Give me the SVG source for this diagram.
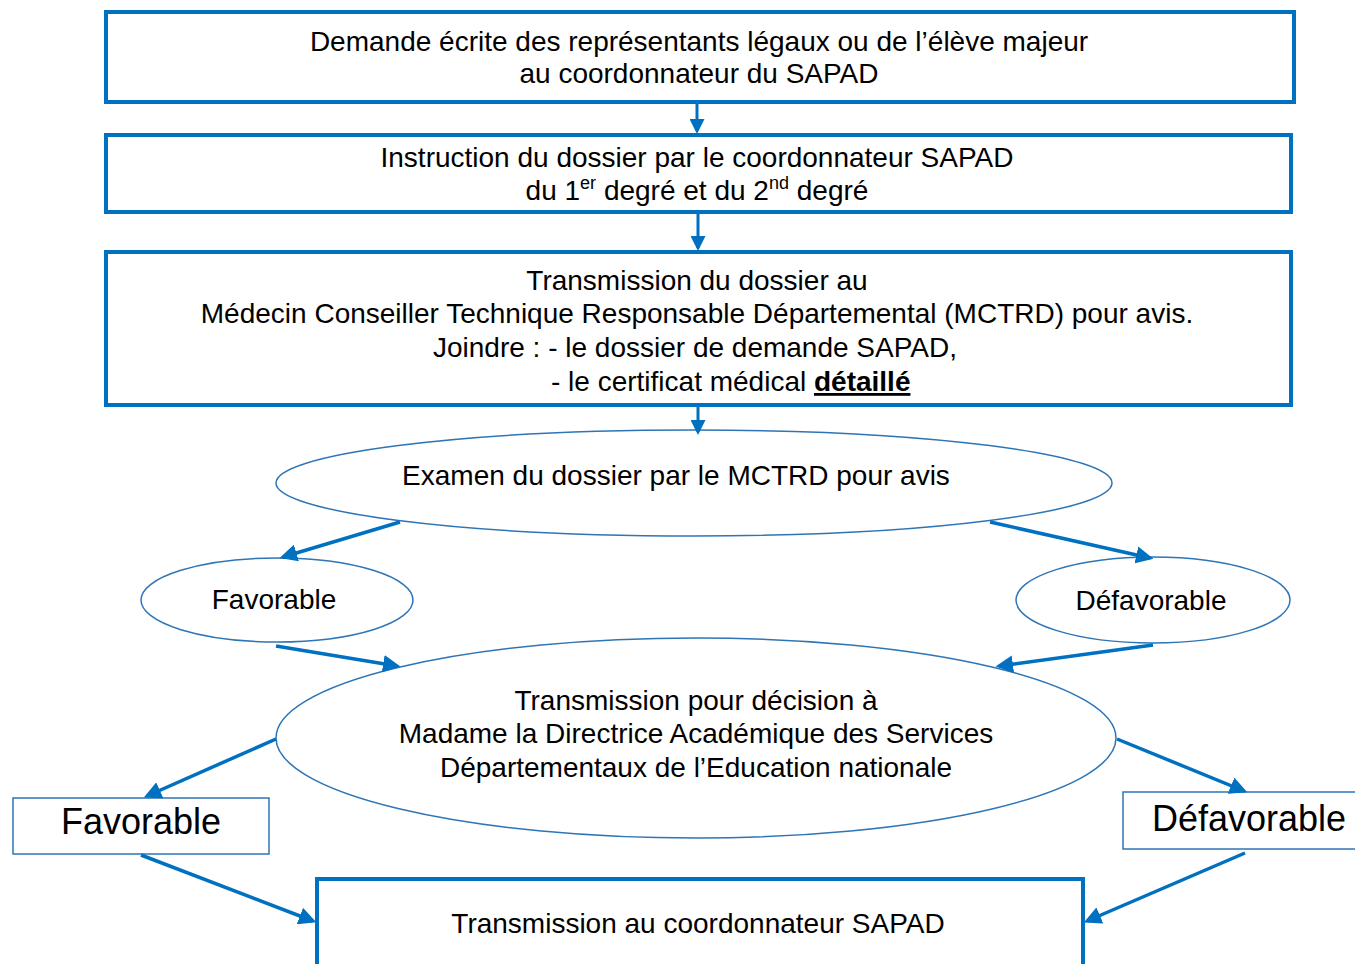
<svg xmlns="http://www.w3.org/2000/svg" width="1355" height="964" viewBox="0 0 1355 964">
<defs>
<marker id="ah" markerWidth="5" markerHeight="5" refX="4" refY="2.5" orient="auto" markerUnits="strokeWidth">
<path d="M0,0 L5,2.5 L0,5 Z" fill="#0070C0"/>
</marker>
<style>
.bx{fill:#fff;stroke:#0070C0;stroke-width:4}
.tb{fill:#fff;stroke:#2E75B6;stroke-width:1.5}
.el{fill:#fff;stroke:#2E75B6;stroke-width:1.5}
.t{font-family:"Liberation Sans",Arial,sans-serif;font-size:28px;fill:#000;text-anchor:middle}
.tl{font-family:"Liberation Sans",Arial,sans-serif;font-size:28px;fill:#000}
.big{font-family:"Liberation Sans",Arial,sans-serif;font-size:36px;fill:#000;text-anchor:middle}
.c{fill:none;stroke:#0070C0;stroke-width:3.5;marker-end:url(#ah)}
.cv{fill:none;stroke:#0070C0;stroke-width:3;marker-end:url(#ah)}
</style>
</defs>
<rect width="1355" height="964" fill="#fff"/>
<g id="n1">
<rect class="bx" x="106" y="12" width="1188" height="90"/>
<text class="t" x="699" y="51">Demande écrite des représentants légaux ou de l’élève majeur</text>
<text class="t" x="699" y="83">au coordonnateur du SAPAD</text>
</g>
<g id="n2">
<rect class="bx" x="106" y="135" width="1185" height="77"/>
<text class="t" x="697" y="167">Instruction du dossier par le coordonnateur SAPAD</text>
<text class="t" x="697" y="200">du 1<tspan font-size="18" dy="-11">er</tspan><tspan dy="11"> degré et du 2</tspan><tspan font-size="18" dy="-11">nd</tspan><tspan dy="11"> degré</tspan></text>
</g>
<g id="n3">
<rect class="bx" x="106" y="252" width="1185" height="153"/>
<text class="t" x="697" y="290">Transmission du dossier au</text>
<text class="t" x="697" y="323">Médecin Conseiller Technique Responsable Départemental (MCTRD) pour avis.</text>
<text class="tl" x="433" y="357">Joindre : - le dossier de demande SAPAD,</text>
<text class="tl" x="551" y="391">- le certificat médical <tspan font-weight="bold" text-decoration="underline">détaillé</tspan></text>
</g>
<g id="n4">
<ellipse class="el" cx="694" cy="483" rx="418" ry="53"/>
<text class="t" x="676" y="485">Examen du dossier par le MCTRD pour avis</text>
</g>
<g id="n5">
<ellipse class="el" cx="277" cy="600" rx="136" ry="42"/>
<text class="t" x="274" y="609">Favorable</text>
</g>
<g id="n6">
<ellipse class="el" cx="1153" cy="600" rx="137" ry="43"/>
<text class="t" x="1151" y="610">Défavorable</text>
</g>
<g id="n7">
<ellipse class="el" cx="696" cy="738" rx="420" ry="100"/>
<text class="t" x="696" y="710">Transmission pour décision à</text>
<text class="t" x="696" y="743">Madame la Directrice Académique des Services</text>
<text class="t" x="696" y="777">Départementaux de l’Education nationale</text>
</g>
<g id="n8">
<rect class="tb" x="13" y="798" width="256" height="56"/>
<text class="big" x="141" y="834">Favorable</text>
</g>
<g id="n9">
<rect class="tb" x="1123" y="792" width="240" height="57"/>
<text class="big" x="1249" y="831">Défavorable</text>
</g>
<g id="n10">
<rect class="bx" x="317" y="879" width="766" height="100"/>
<text class="t" x="698" y="933">Transmission au coordonnateur SAPAD</text>
</g>
<g id="connectors">
<line class="cv" x1="697" y1="102" x2="697" y2="131"/>
<line class="cv" x1="698" y1="212" x2="698" y2="248"/>
<line class="cv" x1="698" y1="405" x2="698" y2="432"/>
<line class="c" x1="400" y1="522" x2="283" y2="557"/>
<line class="c" x1="990" y1="522" x2="1150" y2="558"/>
<line class="c" x1="276" y1="646" x2="397" y2="666"/>
<line class="c" x1="1153" y1="645" x2="999" y2="666"/>
<line class="c" x1="276" y1="739" x2="147" y2="796"/>
<line class="c" x1="1117" y1="739" x2="1244" y2="791"/>
<line class="c" x1="141" y1="855" x2="313" y2="921"/>
<line class="c" x1="1245" y1="853" x2="1087" y2="921"/>
</g>
</svg>
